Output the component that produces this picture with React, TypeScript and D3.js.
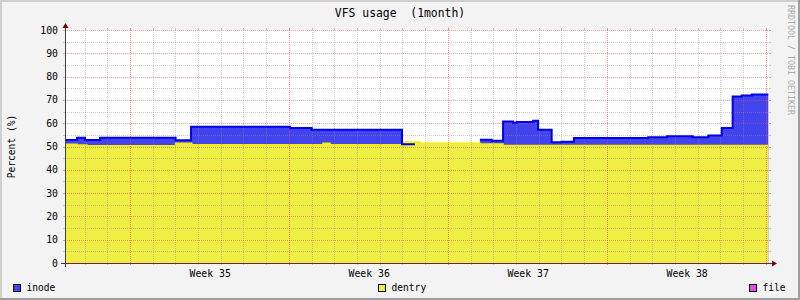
import React from "react";
import * as d3 from "d3";

// ---------- data ----------
const title = "VFS usage  (1month)";
const yAxisLabel = "Percent (%)";
const watermark = "RRDTOOL / TOBI OETIKER";
const yMajorTicks = [0, 10, 20, 30, 40, 50, 60, 70, 80, 90, 100];
const yMinorTicks = [5, 15, 25, 35, 45, 55, 65, 75, 85, 95];
const weekLabels = ["Week 35", "Week 36", "Week 37", "Week 38"];
const spanDays = 31; // one month window, in days
const firstMondayDay = 2.86; // start of Week 35, days from the left edge
const dayGridCount = 31; // daily grid lines from two days before Week 35
const dataEndDay = 30.97;

const seriesNames = ["inode", "dentry", "file"];
const seriesFill = ["#4444EE", "#EEEE44", "#EE44EE"];

// [day, percent]; null = unknown
const inodeData: [number, number | null][] = [
  [0, 52.8], [0.53, 53.8], [0.88, 52.8], [1.54, 53.8], [4.87, 52.7],
  [5.55, 58.5], [9.91, 57.9], [10.86, 57.2], [14.84, 51.0], [15.41, null],
  [18.27, 52.9], [18.79, 52.5], [19.29, 60.7], [19.73, 60.2], [19.89, 60.5],
  [20.62, 61.1], [20.83, 57.2], [21.43, 51.8], [21.87, 52.0], [22.41, 53.6],
  [25.68, 54.0], [26.51, 54.4], [27.64, 54.0], [28.33, 54.7], [28.92, 57.9],
  [29.4, 71.5], [29.8, 71.9], [30.24, 72.3],
];
const dentryData: [number, number | null][] = [
  [0, 51.0], [0.53, 50.6], [0.97, 50.3], [4.87, 51.4], [5.58, 50.7],
  [11.36, 51.4], [11.67, 50.7], [14.88, 51.9], [15.63, 51.4], [18.27, 51.1],
  [19.29, 50.4],
];
const fileData: [number, number | null][] = [[0, 0]];

// ---------- helpers ----------
function toSteps(data: [number, number | null][], end: number) {
  const pts: [number, number | null][] = [];
  data.forEach(([d, v], i) => {
    const next = i < data.length - 1 ? data[i + 1][0] : end;
    pts.push([d, v], [next, v]);
  });
  return pts;
}

const FONT = "'DejaVu Sans Mono', monospace";

export default function App() {
  const W = 800;
  const H = 300;
  const x0 = 65;
  const x1 = 769;
  const yTop = 30;
  const yBot = 263;

  const x = d3.scaleLinear().domain([0, spanDays]).range([x0, x1]);
  const y = d3.scaleLinear().domain([0, 100]).range([yBot, yTop]);

  const area = d3
    .area<[number, number | null]>()
    .defined((p) => p[1] !== null)
    .x((p) => x(p[0]))
    .y0(y(0))
    .y1((p) => y(p[1] as number));
  const line = d3
    .line<[number, number | null]>()
    .defined((p) => p[1] !== null)
    .x((p) => x(p[0]))
    .y((p) => y(p[1] as number));

  const inodePts = toSteps(inodeData, dataEndDay);
  const dentryPts = toSteps(dentryData, dataEndDay);
  const filePts = toSteps(fileData, dataEndDay);

  // daily offsets relative to Monday of Week 35
  const dayOffsets = d3.range(-2, dayGridCount - 2);
  const px = (v: number) => Math.round(v) + 0.5;

  const gridGray = "#8F8F8F";
  const gridRed = "#DE5050";

  const legendX = [13.5, 378.5, 749.5];

  return (
    <svg
      width={W}
      height={H}
      style={{ position: "absolute", left: 0, top: 0 }}
      fontFamily={FONT}
    >
      <rect x={0} y={0} width={W} height={H} fill="#F3F3F3" />
      {/* frame shades */}
      <line x1={0} y1={1} x2={W} y2={1} stroke="#CFCFCF" strokeWidth={2} />
      <line x1={1} y1={0} x2={1} y2={H} stroke="#CFCFCF" strokeWidth={2} />
      <line x1={0} y1={H - 1} x2={W} y2={H - 1} stroke="#9E9E9E" strokeWidth={2} />
      <line x1={W - 1} y1={0} x2={W - 1} y2={H} stroke="#9E9E9E" strokeWidth={2} />

      {/* canvas */}
      <rect x={x0} y={yTop} width={x1 - x0} height={yBot - yTop} fill="#FFFFFF" />

      {/* data */}
      <path d={area(inodePts) || ""} fill={seriesFill[0]} />
      <path d={area(dentryPts) || ""} fill={seriesFill[1]} />
      <path d={line(dentryPts) || ""} fill="none" stroke="#F2F200" strokeWidth={1.5} />
      <path d={area(filePts) || ""} fill={seriesFill[2]} />

      {/* grid */}
      <g>
        {yMinorTicks.map((v) => (
          <g key={"hm" + v} stroke={gridGray} strokeOpacity={0.45}>
            <line x1={x0} x2={x1} y1={px(y(v))} y2={px(y(v))} strokeDasharray="1,1" />
            <line x1={x0 - 2} x2={x0} y1={px(y(v))} y2={px(y(v))} />
            <line x1={x1} x2={x1 + 2} y1={px(y(v))} y2={px(y(v))} />
          </g>
        ))}
        {dayOffsets.map((k) => {
          const major = ((k % 7) + 7) % 7 === 0;
          const xx = px(x(firstMondayDay + k));
          return (
            <g key={"v" + k} stroke={major ? gridRed : gridGray} strokeOpacity={major ? 0.6 : 0.45}>
              <line x1={xx} x2={xx} y1={yTop} y2={yBot} strokeDasharray="1,1" />
              <line x1={xx} x2={xx} y1={yBot} y2={yBot + 2} />
              <line x1={xx} x2={xx} y1={yTop - 2} y2={yTop} />
            </g>
          );
        })}
        {yMajorTicks.map((v) => (
          <g key={"hM" + v} stroke={gridRed} strokeOpacity={0.55}>
            <line x1={x0} x2={x1} y1={px(y(v))} y2={px(y(v))} strokeDasharray="1,1" />
            <line x1={x0 - 2} x2={x0} y1={px(y(v))} y2={px(y(v))} />
            <line x1={x1} x2={x1 + 2} y1={px(y(v))} y2={px(y(v))} />
          </g>
        ))}
      </g>

      {/* inode line on top */}
      <path d={line(inodePts) || ""} fill="none" stroke="#0000EE" strokeWidth={2} />

      {/* axes */}
      <line x1={x0 - 4} x2={x1 + 4} y1={yBot + 0.5} y2={yBot + 0.5} stroke="#6E2048" strokeWidth={1} />
      <line x1={x0 + 0.5} x2={x0 + 0.5} y1={yBot + 4} y2={yTop - 4} stroke="#404040" strokeWidth={1} />
      <path d={`M${x1 + 3},${yBot - 2.5}L${x1 + 8},${yBot + 0.5}L${x1 + 3},${yBot + 3.5}Z`} fill="#7F0000" />
      <path d={`M${x0 - 2.5},${yTop - 2}L${x0 + 0.5},${yTop - 7}L${x0 + 3.5},${yTop - 2}Z`} fill="#7F0000" />

      {/* y tick labels */}
      {yMajorTicks.map((v) => (
        <text key={"yl" + v} x={58} y={y(v)} dy="0.36em" textAnchor="end" fontSize={9.8} fill="#000">
          {v}
        </text>
      ))}
      {/* week labels */}
      {weekLabels.map((w, i) => (
        <text key={w} x={x(firstMondayDay + 7 * i + 3.5) + 0.8} y={276.5} textAnchor="middle" fontSize={9.8} fill="#000">
          {w}
        </text>
      ))}

      {/* title */}
      <text x={400} y={17} textAnchor="middle" fontSize={11.4} fill="#000" style={{ whiteSpace: "pre" }}>
        {title}
      </text>
      {/* y axis label */}
      <text transform="translate(14.5,146.5) rotate(-90)" textAnchor="middle" fontSize={9.6} fill="#000">
        {yAxisLabel}
      </text>
      {/* watermark */}
      <text transform="translate(787.5,5) rotate(90)" textAnchor="start" fontSize={8.3} fill="#AAAAAA">
        {watermark}
      </text>

      {/* legend */}
      {seriesNames.map((n, i) => (
        <g key={n}>
          <rect x={legendX[i]} y={284.5} width={7} height={7} fill={seriesFill[i]} stroke="#000" strokeWidth={1} />
          <text x={legendX[i] + 13} y={291} fontSize={9.6} fill="#000">
            {n}
          </text>
        </g>
      ))}
    </svg>
  );
}
